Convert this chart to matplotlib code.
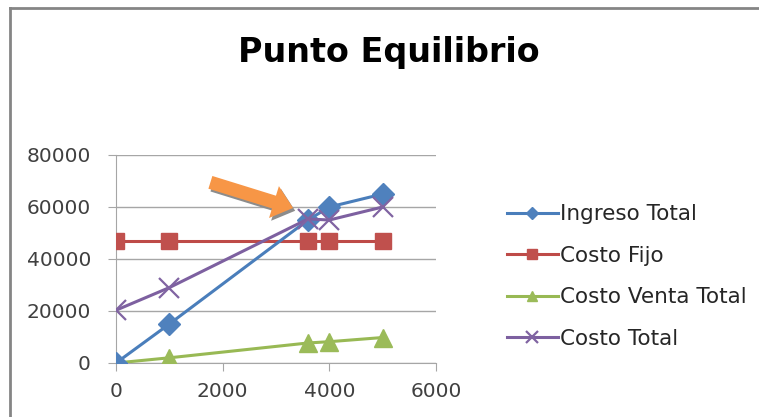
import matplotlib.pyplot as plt
from matplotlib.lines import Line2D
import matplotlib.patheffects as pe

plt.rcParams['font.family'] = ['DejaVu Sans']

# units sold and the four series of the break-even table
unidades = [0, 1000, 3600, 4000, 5000]
ingreso_total = [0, 15000, 55000, 60000, 65000]
costo_fijo = [46800, 46800, 46800, 46800, 46800]
costo_venta_total = [0, 2000, 7700, 8200, 9800]
costo_total = [20300, 29000, 55400, 55000, 60000]

x_ticks = [0, 2000, 4000, 6000]
y_ticks = [0, 20000, 40000, 60000, 80000]

fig = plt.figure(figsize=(7.59, 4.17), dpi=100)
fig.patch.set_facecolor('white')

# chart frame (left and top edges)
fx, fy = 10 / 759, 1 - 8 / 417
fig.add_artist(Line2D([fx, fx], [0, fy], transform=fig.transFigure,
                      color='#858585', lw=2))
fig.add_artist(Line2D([fx, 1.01], [fy, fy], transform=fig.transFigure,
                      color='#858585', lw=2))

fig.text(0.512, 0.874, 'Punto Equilibrio', ha='center', va='center',
         fontsize=24, fontweight='bold', color='black')

ax = fig.add_axes([116 / 759, 1 - 363 / 417, 320 / 759, 208 / 417])

ax.plot(unidades, ingreso_total, color='#4a7ebb', lw=2.2, marker='D',
        ms=11, mfc='#4f81bd', mec='#4f81bd', label='Ingreso Total', zorder=4)
ax.plot(unidades, costo_fijo, color='#be4b48', lw=2.2, marker='s',
        ms=12, mfc='#c0504d', mec='#c0504d', label='Costo Fijo', zorder=3)
ax.plot(unidades, costo_venta_total, color='#98b954', lw=2.2, marker='^',
        ms=13, mfc='#9bbb59', mec='#9bbb59', label='Costo Venta Total', zorder=3)
ax.plot(unidades, costo_total, color='#7d60a0', lw=2.2, marker='x',
        ms=14, mew=1.6, mec='#8064a2', label='Costo Total', zorder=4)

ax.set_xlim(0, 6000)
ax.set_ylim(0, 80000)
ax.set_xticks(x_ticks)
ax.set_yticks(y_ticks)
ax.yaxis.grid(True, color='#a6a6a6', lw=1)
ax.set_axisbelow(True)
for side in ['top', 'right']:
    ax.spines[side].set_visible(False)
for side in ['left', 'bottom']:
    ax.spines[side].set_color('#a6a6a6')
ax.tick_params(axis='both', colors='#a6a6a6', labelcolor='#404040',
               labelsize=14.5, length=6)
ax.tick_params(axis='x', pad=8)
ax.tick_params(axis='y', pad=12)

# arrow pointing at the break-even point
ax.annotate('', xy=(3370, 59300), xytext=(1720, 69800),
            arrowprops=dict(arrowstyle='simple,head_length=0.9,head_width=1.5,tail_width=0.6',
                            mutation_scale=16, color='#f79646', lw=0,
                            path_effects=[pe.SimplePatchShadow(offset=(1.5, -2),
                                                               shadow_rgbFace='#8c8c8c', alpha=1),
                                          pe.Normal()]),
            zorder=6, annotation_clip=False)

leg = ax.legend(loc='center left', bbox_to_anchor=(1.16, 0.415), frameon=False,
                fontsize=15.5, handlelength=2.4, handletextpad=0.1,
                labelspacing=1.0, labelcolor='#262626', markerscale=0.6)

fig.savefig('out.png', dpi=100)
